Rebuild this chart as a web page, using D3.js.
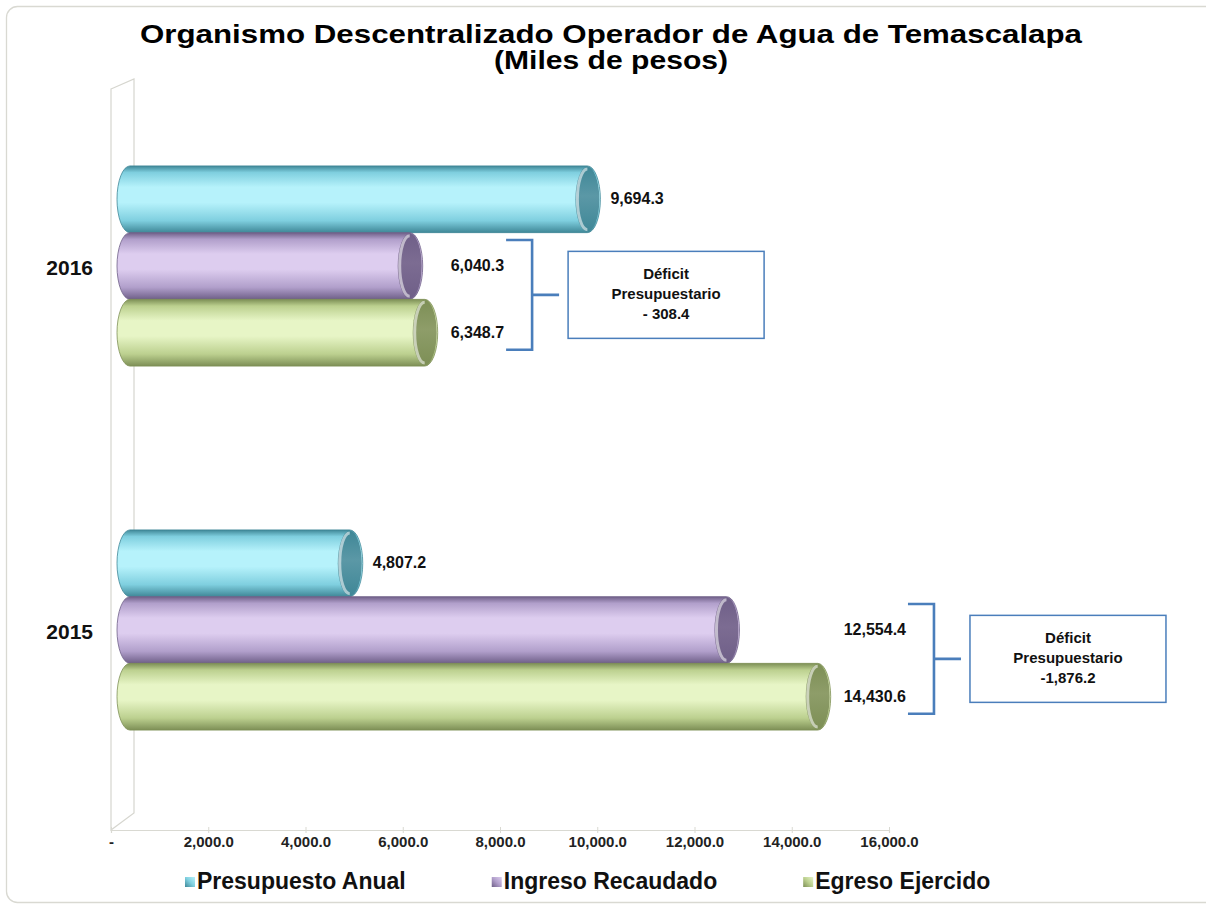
<!DOCTYPE html>
<html>
<head>
<meta charset="utf-8">
<script src="https://cdn.jsdelivr.net/npm/d3@7"></script>
<style>
  body { margin: 0; background: #fff; }
  text { font-family: "Liberation Sans", Arial, sans-serif; }
</style>
</head>
<body>
<div class="canvas"></div>
<script>
// data
const categories = ["2016", "2015"];
const seriesNames = ["Presupuesto Anual", "Ingreso Recaudado", "Egreso Ejercido"];
const presupuesto = [9694.3, 4807.2];
const ingreso = [6040.3, 12554.4];
const egreso = [6348.7, 14430.6];
const deficitLabels = ["- 308.4", "-1,876.2"];
const xTicks = [0, 2000, 4000, 6000, 8000, 10000, 12000, 14000, 16000];

const dims = { width: 1206, height: 906 };
const plot = { left: 111, right: 889, top: 84, bottom: 812, axisY: 830 };
const depth = { dx: 23, dy: -10 };

const palette = [
  { dark: "#3f8797", mid: "#7fcfdf", light: "#b6f2fb", cap: "#5b98a6" },
  { dark: "#6f5f88", mid: "#b19fcb", light: "#ddcdef", cap: "#7c6c92" },
  { dark: "#7d8f56", mid: "#bcd08f", light: "#e7f5c6", cap: "#8e9d69" }
];

const svg = d3
  .select(".canvas")
  .append("svg")
  .attr("width", dims.width)
  .attr("height", dims.height);

// frame
svg
  .append("rect")
  .attr("x", 6.5)
  .attr("y", 6.5)
  .attr("width", 1210)
  .attr("height", 896)
  .attr("rx", 11)
  .attr("fill", "#fff")
  .attr("stroke", "#d9d9d2")
  .attr("stroke-width", 1.3);

// gradients
const defs = svg.append("defs");
palette.forEach((c, i) => {
  const g = defs
    .append("linearGradient")
    .attr("id", `cyl${i}`)
    .attr("x1", 0).attr("y1", 0).attr("x2", 0).attr("y2", 1);
  [
    [0, c.dark], [0.1, c.mid], [0.32, c.light], [0.55, c.light],
    [0.82, c.mid], [1, c.dark]
  ].forEach(([o, col]) => g.append("stop").attr("offset", o).attr("stop-color", col));

  const cg = defs
    .append("linearGradient")
    .attr("id", `cap${i}`)
    .attr("x1", 0).attr("y1", 0).attr("x2", 0).attr("y2", 1);
  [[0, c.dark], [0.45, c.cap], [1, c.dark]].forEach(([o, col]) =>
    cg.append("stop").attr("offset", o).attr("stop-color", col)
  );

  const lg = defs
    .append("linearGradient")
    .attr("id", `leg${i}`)
    .attr("x1", 0).attr("y1", 1).attr("x2", 1).attr("y2", 0);
  [[0, c.dark], [0.5, c.mid], [1, c.light]].forEach(([o, col]) =>
    lg.append("stop").attr("offset", o).attr("stop-color", col)
  );
});

// scales
const x = d3.scaleLinear().domain([0, 16000]).range([plot.left, plot.right]);
const y = d3
  .scaleBand()
  .domain(categories)
  .range([plot.top, plot.bottom])
  .paddingInner(0.45)
  .paddingOuter(0.225);
const ySub = d3.scaleBand().domain(seriesNames).range([0, y.bandwidth()]);

// back wall
const x0 = x(0);
svg
  .append("path")
  .attr(
    "d",
    `M${x0},${plot.top + 5} L${x0 + depth.dx},${plot.top + 5 + depth.dy} L${x0 + depth.dx},${plot.axisY - 17} L${x0},${plot.axisY} Z`
  )
  .attr("fill", "none")
  .attr("stroke", "#d6d6cf")
  .attr("stroke-width", 1.2);

// axis
const xAxis = d3
  .axisBottom(x)
  .tickValues(xTicks)
  .tickSize(3)
  .tickPadding(3)
  .tickFormat((d) => (d === 0 ? "-" : d3.format(",.1f")(d)));

const axisG = svg
  .append("g")
  .attr("transform", `translate(0, ${plot.axisY})`)
  .call(xAxis);
axisG.select(".domain").attr("stroke", "#d9d9d2").attr("stroke-width", 1.2);
axisG.selectAll(".tick line").attr("stroke", "#d9d9d2").attr("y1", -3);
axisG
  .selectAll(".tick text")
  .attr("font-size", 15)
  .attr("font-weight", "bold")
  .attr("fill", "#222");

// category labels
svg
  .selectAll(".cat")
  .data(categories)
  .enter()
  .append("text")
  .attr("class", "cat")
  .attr("x", 93)
  .attr("y", (d) => y(d) + y.bandwidth() / 2 + 3)
  .attr("text-anchor", "end")
  .attr("dominant-baseline", "middle")
  .attr("font-size", 21)
  .attr("font-weight", "bold")
  .attr("fill", "#111")
  .text((d) => d);

// bars
const rows = [];
categories.forEach((cat, ci) => {
  [presupuesto, ingreso, egreso].forEach((arr, si) => {
    rows.push({ cat, ci, si, name: seriesNames[si], value: arr[ci] });
  });
});

const rx = 13;
const shift = 5;
const barsG = svg.append("g");
const bar = barsG
  .selectAll("g.bar")
  .data(rows)
  .enter()
  .append("g")
  .attr("class", "bar")
  .attr("transform", (d) => `translate(0, ${y(d.cat) + ySub(d.name)})`);

const h = ySub.bandwidth();
bar
  .append("path")
  .attr("d", (d) => {
    const l = x(0) + shift + 1;
    const r = x(d.value) + shift;
    return `M${l + rx},0 L${r},0 A${rx},${h / 2} 0 0 1 ${r},${h} L${l + rx},${h} A${rx},${h / 2} 0 0 1 ${l + rx},0 Z`;
  })
  .attr("fill", (d) => `url(#cyl${d.si})`)
  .attr("stroke", (d) => palette[d.si].dark)
  .attr("stroke-width", 0.8);

bar
  .append("ellipse")
  .attr("cx", (d) => x(d.value) + shift)
  .attr("cy", h / 2)
  .attr("rx", rx - 1)
  .attr("ry", h / 2 - 1)
  .attr("fill", (d) => `url(#cap${d.si})`);

bar
  .append("path")
  .attr("d", (d) => {
    const c = x(d.value) + shift;
    return `M${c},3 A${rx - 3},${h / 2 - 3} 0 0 0 ${c},${h - 3}`;
  })
  .attr("fill", "none")
  .attr("stroke", "#fff")
  .attr("stroke-opacity", 0.55)
  .attr("stroke-width", 3);

// value labels
const fmt = d3.format(",.1f");
const labelX = (d) => {
  if (d.si === 0) return x(d.value) + shift + rx + 10;
  const m = Math.max(ingreso[d.ci], egreso[d.ci]);
  return x(m) + shift + rx + 13;
};
const labels = svg
  .selectAll(".vlabel")
  .data(rows)
  .enter()
  .append("text")
  .attr("class", "vlabel")
  .attr("x", labelX)
  .attr("y", (d) => y(d.cat) + ySub(d.name) + h / 2 + 1)
  .attr("dominant-baseline", "middle")
  .attr("font-size", 16)
  .attr("font-weight", "bold")
  .attr("fill", "#111")
  .text((d) => fmt(d.value));

// deficit brackets
const blue = "#4a7ebb";
categories.forEach((cat, ci) => {
  const lx = x(Math.max(ingreso[ci], egreso[ci])) + shift + rx + 13;
  let w = 0;
  labels
    .filter((d) => d.ci === ci && d.si > 0)
    .each(function () {
      w = Math.max(w, this.getComputedTextLength());
    });
  const bx0 = lx + w + 2;
  const bx1 = bx0 + 26;
  const top = y(cat) + ySub(seriesNames[1]) + h / 2 - 26;
  const bot = y(cat) + ySub(seriesNames[2]) + h / 2 + 17;
  const mid = (top + bot) / 2;

  const g = svg.append("g");
  g.append("path")
    .attr("d", `M${bx0},${top} H${bx1} V${bot} H${bx0} M${bx1},${mid} H${bx1 + 27}`)
    .attr("fill", "none")
    .attr("stroke", blue)
    .attr("stroke-width", 2.6);

  const boxX = bx1 + 36;
  const boxW = 196;
  const boxH = 87;
  g.append("rect")
    .attr("x", boxX)
    .attr("y", mid - boxH / 2)
    .attr("width", boxW)
    .attr("height", boxH)
    .attr("fill", "#fff")
    .attr("stroke", blue)
    .attr("stroke-width", 1.5);

  ["Déficit", "Presupuestario", deficitLabels[ci]].forEach((t, i) => {
    g.append("text")
      .attr("x", boxX + boxW / 2)
      .attr("y", mid + (i - 1) * 20)
      .attr("text-anchor", "middle")
      .attr("dominant-baseline", "middle")
      .attr("font-size", 15)
      .attr("font-weight", "bold")
      .attr("fill", "#111")
      .text(t);
  });
});

// title
const titleLines = [
  { t: "Organismo Descentralizado Operador de Agua de Temascalapa", y: 43, len: 942 },
  { t: "(Miles de pesos)", y: 69, len: 234 }
];
svg
  .selectAll(".title")
  .data(titleLines)
  .enter()
  .append("text")
  .attr("class", "title")
  .attr("x", 611)
  .attr("y", (d) => d.y)
  .attr("text-anchor", "middle")
  .attr("font-size", 25)
  .attr("font-weight", "bold")
  .attr("fill", "#000")
  .attr("textLength", (d) => d.len)
  .attr("lengthAdjust", "spacingAndGlyphs")
  .text((d) => d.t);

// legend
const legend = svg.append("g").attr("transform", "translate(185, 882)");
let lx = 0;
seriesNames.forEach((name, i) => {
  const item = legend.append("g").attr("transform", `translate(${lx}, 0)`);
  item
    .append("rect")
    .attr("x", 0)
    .attr("y", -5)
    .attr("width", 10)
    .attr("height", 10)
    .attr("fill", `url(#leg${i})`);
  const t = item
    .append("text")
    .attr("x", 12)
    .attr("y", 1)
    .attr("dominant-baseline", "middle")
    .attr("font-size", 23)
    .attr("font-weight", "bold")
    .attr("fill", "#111")
    .text(name);
  lx += 12 + t.node().getComputedTextLength() + 86;
});
</script>
</body>
</html>
